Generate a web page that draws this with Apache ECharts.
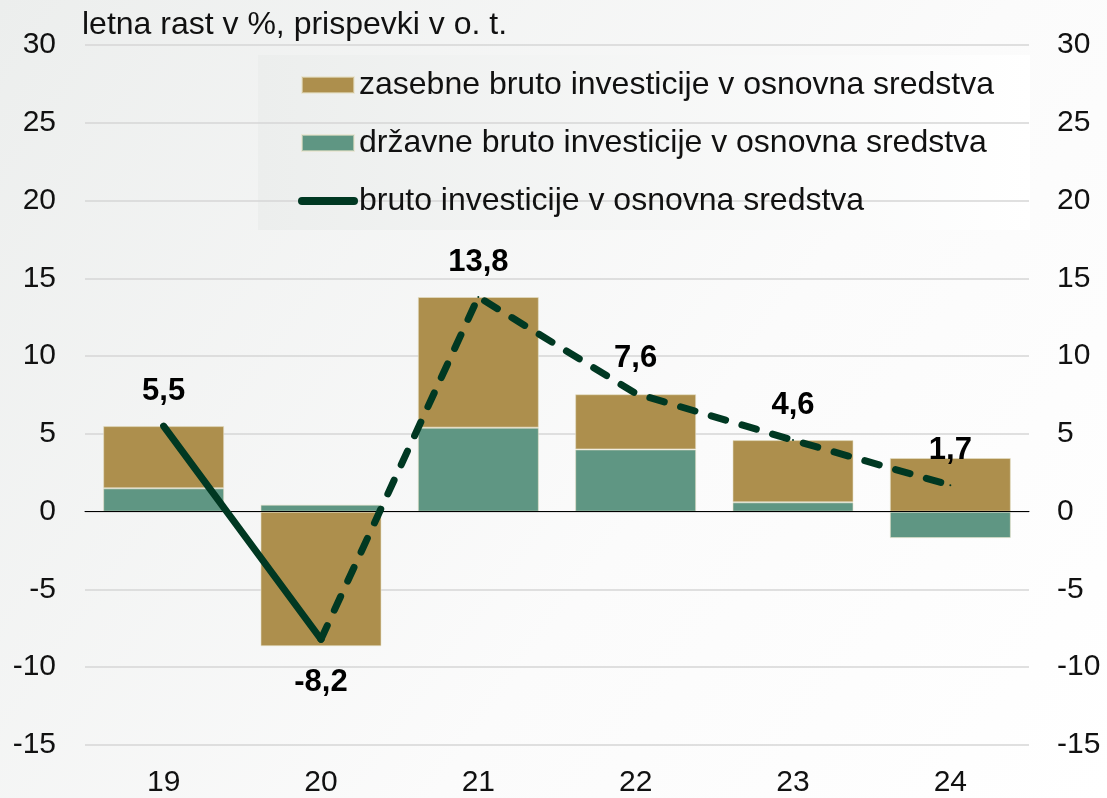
<!DOCTYPE html>
<html>
<head>
<meta charset="utf-8">
<script src="https://cdn.jsdelivr.net/npm/echarts@6/dist/echarts.min.js"></script>
<style>
    html, body { margin: 0; padding: 0; }
    #chart { width: 1107px; height: 798px; }
</style>
</head>
<body>
<div id="chart"></div>
<script>
// podatki
var years = ['19', '20', '21', '22', '23', '24'];
var zasebne = [4.0, -8.65, 8.4, 3.55, 4.0, 3.45];
var drzavne = [1.5, 0.45, 5.4, 4.0, 0.6, -1.7];
var skupaj = [5.5, -8.2, 13.8, 7.6, 4.6, 1.7];
var yTicks = [-15, -10, -5, 0, 5, 10, 15, 20, 25, 30];

var FONT = '"Liberation Sans", Arial, sans-serif';
var LINE_COLOR = '#003822';

// polna crta do 20, nato crtkana
var solidData = skupaj.map(function (v, i) { return i <= 1 ? v : '-'; });
solidData[0] = { value: skupaj[0], label: { show: true, position: 'top', distance: 18 } };
solidData[1] = { value: skupaj[1], label: { show: true, position: 'bottom', distance: 27 } };
var dashData = skupaj.map(function (v, i) {
    if (i < 1) return '-';
    if (i === 1) return { value: v, label: { show: false } };
    return v;
});

function fmt(p) { return String(p.value).replace('.', ','); }

var chart = echarts.init(document.getElementById('chart'));
var option = {
    backgroundColor: new echarts.graphic.LinearGradient(0, 0, 1, 1, [
        { offset: 0, color: '#eceeed' },
        { offset: 0.6, color: '#fbfbfb' },
        { offset: 1, color: '#ffffff' }
    ]),
    textStyle: { fontFamily: FONT },
    animation: false,
    title: {
        text: 'letna rast v %, prispevki v o. t.',
        left: 77,
        top: 4,
        textStyle: { fontFamily: FONT, fontSize: 32, fontWeight: 'normal', color: '#111' }
    },
    graphic: [{
        type: 'rect',
        left: 258, top: 55, z: -1,
        shape: { width: 772, height: 175 },
        style: {
            fill: new echarts.graphic.LinearGradient(0, 0, 1, 0, [
                { offset: 0, color: '#eceeed' },
                { offset: 1, color: '#ffffff' }
            ])
        }
    }],
    legend: {
        orient: 'vertical',
        left: 298,
        top: 69,
        padding: 0,
        itemGap: 26,
        itemWidth: 52,
        itemHeight: 16,
        data: [
            { name: 'zasebne bruto investicije v osnovna sredstva', icon: 'rect' },
            { name: 'državne bruto investicije v osnovna sredstva', icon: 'rect' },
            { name: 'bruto investicije v osnovna sredstva',
              itemStyle: { opacity: 0 }, lineStyle: { width: 8, cap: 'round', type: 'solid' } }
        ],
        textStyle: { fontFamily: FONT, fontSize: 32, color: '#111', lineHeight: 32 }
    },
    grid: { left: 85, right: 78, top: 45, bottom: 52 },
    xAxis: {
        type: 'category',
        data: years,
        axisLine: { onZero: true, lineStyle: { color: '#000', width: 1 } },
        axisTick: { show: false },
        axisLabel: { fontFamily: FONT, fontSize: 30, color: '#111', margin: 23 },
        z: 5
    },
    yAxis: [{
        type: 'value',
        min: yTicks[0], max: yTicks[yTicks.length - 1], interval: 5,
        axisLine: { show: false },
        axisTick: { show: false },
        splitLine: { lineStyle: { color: '#d6d6d6', width: 1.5 } },
        axisLabel: { fontFamily: FONT, fontSize: 30, color: '#111', margin: 29 }
    }, {
        type: 'value',
        min: yTicks[0], max: yTicks[yTicks.length - 1], interval: 5,
        position: 'right',
        axisLine: { show: false },
        axisTick: { show: false },
        splitLine: { show: false },
        axisLabel: { fontFamily: FONT, fontSize: 30, color: '#111', margin: 28 }
    }],
    series: [
        {
            name: 'državne bruto investicije v osnovna sredstva',
            type: 'bar',
            stack: 'inv',
            barWidth: 121,
            itemStyle: { color: '#5f9683', borderColor: 'rgba(230,225,200,0.6)', borderWidth: 1 },
            data: drzavne
        },
        {
            name: 'zasebne bruto investicije v osnovna sredstva',
            type: 'bar',
            stack: 'inv',
            barWidth: 121,
            itemStyle: { color: '#ad8f4d', borderColor: 'rgba(230,225,200,0.6)', borderWidth: 1 },
            data: zasebne
        },
        {
            name: 'bruto investicije v osnovna sredstva',
            type: 'line',
            symbol: 'circle',
            symbolSize: 2,
            z: 10,
            lineStyle: { color: LINE_COLOR, width: 7, cap: 'round' },
            itemStyle: { color: LINE_COLOR },
            label: {
                fontFamily: FONT, fontSize: 31, fontWeight: 'bold', color: '#000',
                formatter: fmt
            },
            data: solidData
        },
        {
            name: 'bruto investicije (crtkano)',
            type: 'line',
            symbol: 'circle',
            symbolSize: 2,
            z: 10,
            lineStyle: { color: LINE_COLOR, width: 7, type: [15, 17], cap: 'round' },
            itemStyle: { color: LINE_COLOR },
            label: {
                show: true, position: 'top', distance: 18,
                fontFamily: FONT, fontSize: 31, fontWeight: 'bold', color: '#000',
                formatter: fmt
            },
            data: dashData
        }
    ]
};
chart.setOption(option);
</script>
</body>
</html>
